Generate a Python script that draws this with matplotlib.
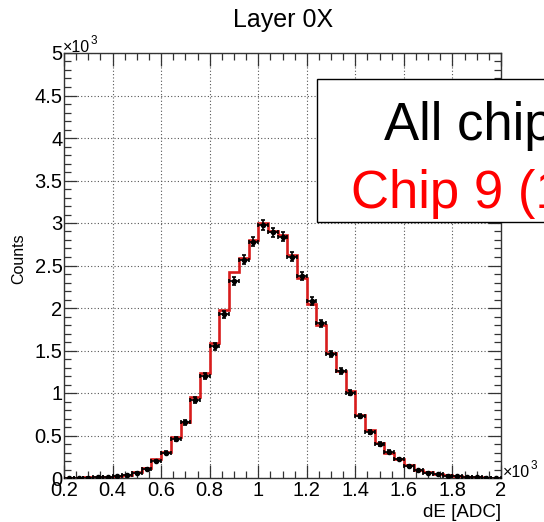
import numpy as np
import matplotlib
matplotlib.use("Agg")
import matplotlib.pyplot as plt
from matplotlib.patches import Rectangle
from matplotlib.ticker import FuncFormatter, MultipleLocator

plt.rcParams["font.family"] = ["Liberation Sans", "DejaVu Sans"]

# binning of dE [ADC]
bin_edges = np.arange(200, 2001, 40)

# all chips (black points, scaled)
all_chips = [2, 3, 5, 8, 12, 20, 35, 62, 102, 200,
             298, 459, 655, 918, 1205, 1550, 1926, 2318, 2570, 2780,
             2976, 2890, 2840, 2604, 2376, 2078, 1820, 1459, 1255, 1004,
             730, 545, 400, 310, 224, 141, 90, 62, 43, 28,
             18, 12, 8, 5, 3]

# chip 9 (red histogram)
chip9 = [3, 4, 6, 10, 16, 22, 40, 74, 114, 224,
         310, 486, 662, 956, 1231, 1584, 1976, 2424, 2590, 2800,
         2996, 2910, 2860, 2624, 2349, 2047, 1800, 1474, 1255, 1027,
         740, 560, 410, 300, 224, 150, 95, 65, 45, 30,
         20, 12, 8, 5, 3]

W, H = 544, 522
fig = plt.figure(figsize=(W / 100, H / 100), dpi=100)
ax = fig.add_axes([64 / W, 1 - 478 / H, 437 / W, 425 / H])

centers = 0.5 * (bin_edges[:-1] + bin_edges[1:])
half_w = 0.5 * np.diff(bin_edges)
vals = np.array(all_chips, dtype=float)

ax.stairs(chip9, bin_edges, color="#d81c1c", lw=1.9, zorder=3)
ax.errorbar(centers, vals, xerr=half_w, yerr=np.sqrt(vals), fmt="o", ms=3,
            color="black", ecolor="black", elinewidth=1.2, capsize=1.6,
            capthick=1.2, zorder=4)

ax.set_xlim(200, 2000)
ax.set_ylim(0, 5000)
ax.xaxis.set_major_locator(MultipleLocator(200))
ax.xaxis.set_minor_locator(MultipleLocator(50))
ax.yaxis.set_major_locator(MultipleLocator(500))
ax.yaxis.set_minor_locator(MultipleLocator(100))
fmt = FuncFormatter(lambda v, p: f"{v / 1000:g}")
ax.xaxis.set_major_formatter(fmt)
ax.yaxis.set_major_formatter(fmt)

ax.tick_params(which="both", direction="in", top=True, right=True,
               labelsize=14.5, width=0.9, color="#333333")
ax.tick_params(which="major", length=9.5)
ax.tick_params(which="minor", length=4.8)
ax.tick_params(axis="x", pad=2)
ax.tick_params(axis="y", pad=1)
ax.grid(True, which="major", color="#555555", ls=(0, (1, 2)), lw=0.8)
for sp in ax.spines.values():
    sp.set_linewidth(1.0)
    sp.set_color("#333333")

# titles and exponents
fig.text(283 / W, 1 - 27 / H, "Layer 0X", fontsize=18, ha="center", va="baseline")
fig.text(19 / W, 1 - 259 / H, "Counts", fontsize=11.5, rotation=90, ha="center", va="center")
fig.text(501 / W, 1 - 517 / H, "dE [ADC]", fontsize=13.5, ha="right", va="baseline")
fig.text(63 / W, 1 - 52 / H, "×10", fontsize=11.5, ha="left", va="baseline")
fig.text(91 / W, 1 - 44 / H, "3", fontsize=8.5, ha="left", va="baseline")
fig.text(503 / W, 1 - 477 / H, "×10", fontsize=11.5, ha="left", va="baseline")
fig.text(531 / W, 1 - 469 / H, "3", fontsize=8.5, ha="left", va="baseline")

# legend box (runs off the canvas on the right)
fig.patches.append(Rectangle((317 / W, 1 - 222 / H), 0.6, 143 / H,
                             transform=fig.transFigure, facecolor="white",
                             edgecolor="black", lw=1.0, zorder=5))
fig.text(384 / W, 1 - 140 / H, "All chips", fontsize=38, ha="left",
         va="baseline", color="black", zorder=6)
fig.text(351 / W, 1 - 208 / H, "Chip 9 (1/N)", fontsize=38, ha="left",
         va="baseline", color="red", zorder=6)

fig.savefig("out.png", dpi=100)
